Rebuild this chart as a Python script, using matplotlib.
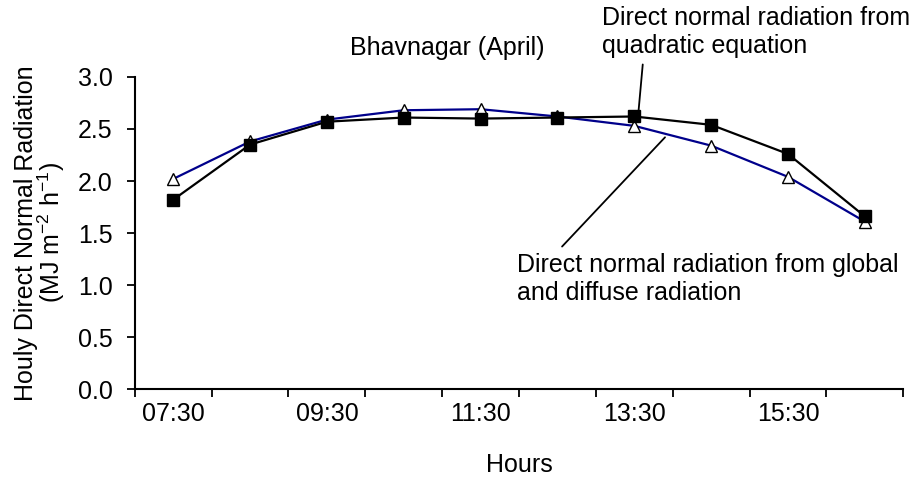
import matplotlib.pyplot as plt

plt.rcParams['font.family'] = ['Liberation Sans', 'DejaVu Sans']
plt.rcParams['mathtext.fontset'] = 'custom'
plt.rcParams['mathtext.rm'] = 'Liberation Sans'
plt.rcParams['mathtext.it'] = 'Liberation Sans'

# 数据
hours = ["07:30", "08:30", "09:30", "10:30", "11:30",
         "12:30", "13:30", "14:30", "15:30", "16:30"]
quadratic = [1.82, 2.35, 2.57, 2.61, 2.60, 2.61, 2.62, 2.54, 2.26, 1.66]
global_diffuse = [2.02, 2.38, 2.59, 2.68, 2.69, 2.62, 2.53, 2.34, 2.04, 1.61]

x = list(range(len(hours)))
FS = 18

fig = plt.figure(figsize=(9.17, 4.78), dpi=100)
ax = fig.add_axes([0.147, 0.186, 0.838, 0.653])

ax.plot(x, global_diffuse, color="#00008B", lw=1.6, marker="^", ms=9,
        mfc="white", mec="black", mew=1.0, zorder=3)
ax.plot(x, quadratic, color="black", lw=1.6, marker="s", ms=9,
        mfc="black", mec="black", zorder=4)

ax.set_xlim(-0.5, len(hours) - 0.5)
ax.set_ylim(0, 3.0)
ax.set_yticks([0, 0.5, 1.0, 1.5, 2.0, 2.5, 3.0])
ax.set_yticklabels([f"{v:.1f}" for v in ax.get_yticks()])

# 类别轴：刻度在类别之间，标签每隔一个
ax.set_xticks([i - 0.5 for i in range(len(hours) + 1)])
ax.set_xticklabels([])
ax.set_xticks(x[::2], minor=True)
ax.set_xticklabels(hours[::2], minor=True)
ax.tick_params(axis="x", which="minor", length=0, pad=9)
ax.tick_params(axis="both", which="major", direction="out", length=6,
               width=1.3, labelsize=FS)
ax.tick_params(axis="y", which="major", pad=10)
ax.tick_params(axis="x", which="minor", labelsize=FS)

for s in ["top", "right"]:
    ax.spines[s].set_visible(False)
for s in ["left", "bottom"]:
    ax.spines[s].set_linewidth(1.5)

ax.set_xlabel("Hours", fontsize=FS, labelpad=20)
ax.set_ylabel("Houly Direct Normal Radiation\n(MJ m$^{-2}$ h$^{-1}$)",
              fontsize=FS, labelpad=8, linespacing=0.9)

# 注释
ax.text(3.57, 3.21, "Bhavnagar (April)", fontsize=FS, ha="center",
        va="baseline")
ax.text(5.58, 3.68, "Direct normal radiation from\nquadratic equation",
        fontsize=FS, ha="left", va="top", linespacing=1.2)
ax.annotate("", xy=(6.05, 2.63), xytext=(6.11, 3.12),
            arrowprops=dict(arrowstyle="-", color="black", lw=1.3,
                            shrinkA=0, shrinkB=0))
ax.text(4.47, 1.31, "Direct normal radiation from global\nand diffuse radiation",
        fontsize=FS, ha="left", va="top", linespacing=1.2)
ax.annotate("", xy=(6.40, 2.42), xytext=(5.06, 1.37),
            arrowprops=dict(arrowstyle="-", color="black", lw=1.3,
                            shrinkA=0, shrinkB=0))

for t in ax.texts:
    t.set_clip_on(False)

fig.savefig("out.png", dpi=100)
